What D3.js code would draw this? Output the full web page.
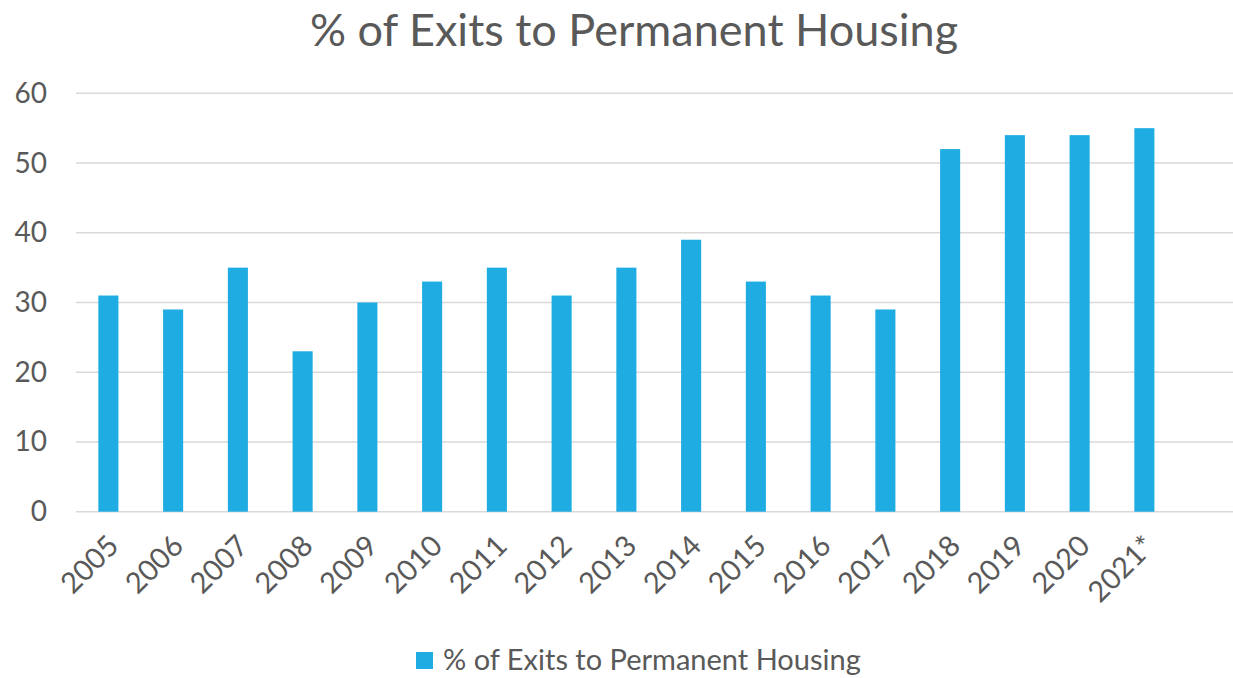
<!DOCTYPE html>
<html>
<head>
<meta charset="utf-8">
<script src="https://cdn.jsdelivr.net/npm/d3@7"></script>
<style>
  body { margin: 0; background: #fff; }
  svg text { font-family: Lato, "Open Sans", sans-serif; fill: #595959; }
</style>
</head>
<body>
<div id="chart"></div>
<script>
// data
var years = ['2005', '2006', '2007', '2008', '2009', '2010', '2011', '2012', '2013',
             '2014', '2015', '2016', '2017', '2018', '2019', '2020', '2021*'];
var exits_pct = [31, 29, 35, 23, 30, 33, 35, 31, 35, 39, 33, 31, 29, 52, 54, 54, 55];
var y_ticks = [0, 10, 20, 30, 40, 50, 60];
var series_name = '% of Exits to Permanent Housing';
var chart_title = '% of Exits to Permanent Housing';

var width  = 1233;
var height = 678;
var left   = 76;
var step   = 64.75;
var bar_color = '#1EACE3';

var data = years.map(function(y, i) { return {year: y, value: exits_pct[i]}; });

var svg = d3.select('#chart')
            .append('svg')
            .attr('width', width)
            .attr('height', height);

var x_scale = d3.scaleBand()
                .domain(years)
                .range([left, left + step * years.length])
                .paddingInner(0.69)
                .paddingOuter(0.345);

var y_scale = d3.scaleLinear()
                .domain([0, 60])
                .range([511.7, 93.3]);

// gridlines
svg.append('g')
   .selectAll('line')
   .data(y_ticks)
   .enter()
   .append('line')
   .attr('x1', left)
   .attr('x2', width)
   .attr('y1', function(d) { return y_scale(d); })
   .attr('y2', function(d) { return y_scale(d); })
   .attr('stroke', '#D9D9D9')
   .attr('stroke-width', 1.5);

// y axis labels
var y_axis = d3.axisLeft(y_scale)
               .tickValues(y_ticks)
               .tickSize(0)
               .tickPadding(0);

var gy = svg.append('g')
   .attr('transform', 'translate(47,0)')
   .call(y_axis);
gy.select('.domain').remove();
gy.selectAll('text')
  .style('font-size', '28px')
  .attr('fill', '#595959');

// bars
svg.append('g')
   .selectAll('rect')
   .data(data)
   .enter()
   .append('rect')
   .attr('x', function(d) { return x_scale(d.year); })
   .attr('width', x_scale.bandwidth())
   .attr('y', function(d) { return y_scale(d.value); })
   .attr('height', function(d) { return y_scale(0) - y_scale(d.value); })
   .attr('fill', bar_color);

// x axis labels, rotated
var x_axis = d3.axisBottom(x_scale).tickSize(0).tickPadding(0);
var gx = svg.append('g')
   .attr('transform', 'translate(0,' + y_scale(0) + ')')
   .call(x_axis);
gx.select('.domain').remove();
gx.selectAll('text')
  .style('font-size', '29px')
  .attr('fill', '#595959')
  .attr('text-anchor', 'end')
  .attr('dy', null)
  .attr('transform', 'translate(12,36) rotate(-45)');

// title
svg.append('text')
   .attr('x', 634)
   .attr('y', 46)
   .attr('text-anchor', 'middle')
   .style('font-size', '45px')
   .text(chart_title);

// legend
var legend = svg.append('g').attr('class', 'legend');
legend.append('rect')
      .attr('x', 416)
      .attr('y', 652)
      .attr('width', 17)
      .attr('height', 17)
      .attr('fill', bar_color);
legend.append('text')
      .attr('x', 443)
      .attr('y', 670)
      .style('font-size', '29px')
      .text(series_name);
</script>
</body>
</html>
